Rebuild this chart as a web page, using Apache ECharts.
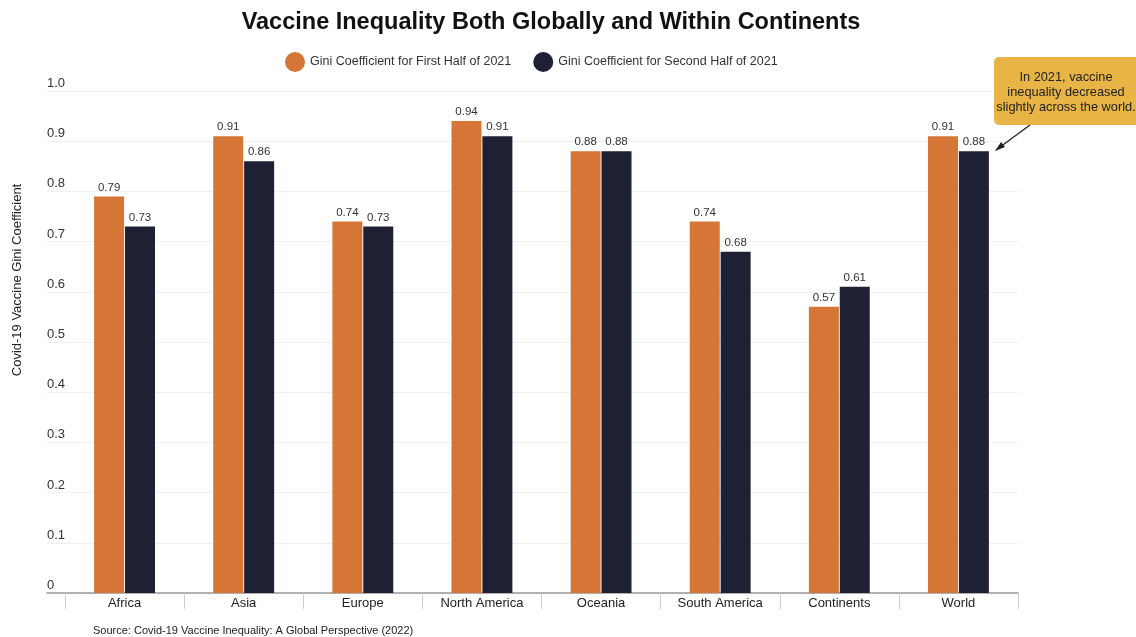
<!DOCTYPE html>
<html>
<head>
<meta charset="utf-8">
<script src="https://cdn.jsdelivr.net/npm/echarts@6/dist/echarts.min.js"></script>
<style>
  html, body { margin: 0; padding: 0; background: #fff; }
  #chart { width: 1136px; height: 637px; }
</style>
</head>
<body>
<div id="chart"></div>
<script>
// data
var regions = ["Africa", "Asia", "Europe", "North America", "Oceania", "South America", "Continents", "World"];
var firstHalf = [0.79, 0.91, 0.74, 0.94, 0.88, 0.74, 0.57, 0.91];
var secondHalf = [0.73, 0.86, 0.73, 0.91, 0.88, 0.68, 0.61, 0.88];
var yTicks = [0, 0.1, 0.2, 0.3, 0.4, 0.5, 0.6, 0.7, 0.8, 0.9, 1.0];

var font = "Liberation Sans, Arial, sans-serif";
var orange = "#D57636";
var navy = "#1E2034";

var chart = echarts.init(document.getElementById("chart"), null, { renderer: "canvas" });

chart.setOption({
  backgroundColor: "#fff",
  animation: false,
  textStyle: { fontFamily: font },
  title: {
    text: "Vaccine Inequality Both Globally and Within Continents",
    left: 546,
    textAlign: "center",
    top: 6,
    textStyle: { fontSize: 23.5, fontWeight: "bold", color: "#111", fontFamily: font }
  },
  legend: {
    top: 47,
    left: 280,
    itemWidth: 20,
    itemHeight: 20,
    itemGap: 22,
    icon: "circle",
    textStyle: { fontSize: 12.5, color: "#333" },
    data: ["Gini Coefficient for First Half of 2021", "Gini Coefficient for Second Half of 2021"]
  },
  grid: [
    // background grid: gridlines, y labels and base line, a bit wider to the left
    { left: 47, right: 118, top: 91, bottom: 44 },
    // bars
    { left: 65, right: 118, top: 91, bottom: 44 }
  ],
  xAxis: [
    {
      type: "value",
      gridIndex: 0,
      min: 0,
      max: 1,
      axisLine: { show: true, onZero: false, lineStyle: { color: "#999", width: 1.5 } },
      axisTick: { show: false },
      axisLabel: { show: false },
      splitLine: { show: false }
    },
    {
      type: "category",
      gridIndex: 1,
      data: regions,
      axisLine: { show: false },
      axisTick: { show: true, length: 16, interval: 0, lineStyle: { color: "#ccc" } },
      axisLabel: { fontSize: 13, color: "#222", margin: 4, interval: 0 }
    }
  ],
  yAxis: [
    {
      type: "value",
      gridIndex: 0,
      min: 0,
      max: 1,
      interval: 0.1,
      axisLine: { show: false },
      axisTick: { show: false },
      axisLabel: {
        inside: true,
        align: "left",
        verticalAlign: "bottom",
        margin: 0,
        padding: [0, 0, 1, 0],
        fontSize: 13,
        color: "#333",
        formatter: function (v) {
          var i = yTicks.indexOf(Math.round(v * 10) / 10);
          if (i < 0) return "";
          return v === 0 ? "0" : yTicks[i].toFixed(1);
        }
      },
      splitLine: { show: true, lineStyle: { color: "#f0f0f0", width: 1 } }
    },
    {
      type: "value",
      gridIndex: 1,
      min: 0,
      max: 1,
      interval: 0.1,
      show: false,
      splitLine: { show: false }
    }
  ],
  series: [
    {
      name: "Gini Coefficient for First Half of 2021",
      type: "bar",
      xAxisIndex: 1,
      yAxisIndex: 1,
      data: firstHalf,
      barWidth: 30,
      barGap: "3%",
      itemStyle: { color: orange },
      label: { show: true, position: "top", distance: 3, fontSize: 11.5, color: "#333" }
    },
    {
      name: "Gini Coefficient for Second Half of 2021",
      type: "bar",
      xAxisIndex: 1,
      yAxisIndex: 1,
      data: secondHalf,
      barWidth: 30,
      itemStyle: { color: navy },
      label: { show: true, position: "top", distance: 3, fontSize: 11.5, color: "#333" }
    }
  ],
  graphic: [
    {
      type: "text",
      x: 17,
      y: 280,
      rotation: Math.PI / 2,
      style: {
        text: "Covid-19 Vaccine Gini Coefficient",
        font: "13px " + font,
        fill: "#222",
        textAlign: "center",
        textVerticalAlign: "middle"
      }
    },
    {
      type: "text",
      left: 93,
      top: 625,
      style: {
        text: "Source: Covid-19 Vaccine Inequality: A Global Perspective (2022)",
        font: "11px " + font,
        fill: "#222"
      }
    },
    // callout box
    {
      type: "rect",
      z: 100,
      shape: { x: 994, y: 57, width: 150, height: 68, r: 5 },
      style: { fill: "#E8B445" }
    },
    {
      type: "text",
      z: 101,
      x: 1066,
      y: 92,
      style: {
        text: "In 2021, vaccine\ninequality decreased\nslightly across the world.",
        font: "12.8px " + font,
        fill: "#222",
        textAlign: "center",
        textVerticalAlign: "middle",
        lineHeight: 15
      }
    },
    // arrow from the callout to the World bar
    {
      type: "line",
      z: 100,
      shape: { x1: 1030, y1: 125, x2: 996, y2: 150 },
      style: { stroke: "#222", lineWidth: 1.3 }
    },
    {
      type: "polygon",
      z: 100,
      shape: { points: [[995, 151], [1001, 142], [1005, 147]] },
      style: { fill: "#222" }
    }
  ]
});
</script>
</body>
</html>
